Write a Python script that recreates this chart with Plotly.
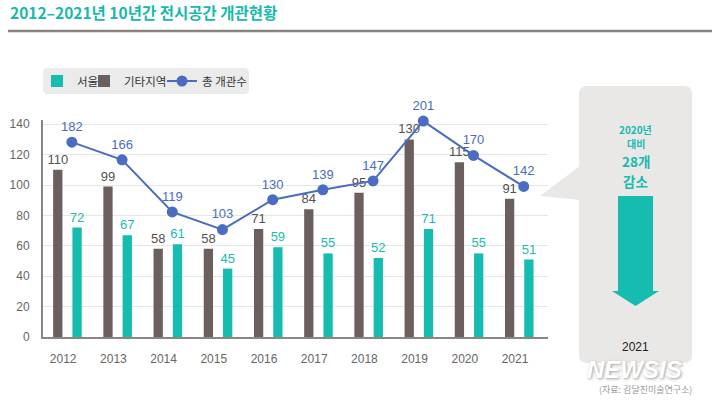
import plotly.graph_objects as go

# ---------------- data ----------------
years = [2012, 2013, 2014, 2015, 2016, 2017, 2018, 2019, 2020, 2021]
seoul = [72, 67, 61, 45, 59, 55, 52, 71, 55, 51]
others = [110, 99, 58, 58, 71, 84, 95, 130, 115, 91]
total = [182, 166, 119, 103, 130, 139, 147, 201, 170, 142]
y_ticks = [0, 20, 40, 60, 80, 100, 120, 140]

title_text = "2012–2021년 10년간 전시공간 개관현황"
panel_lines = ["2020년", "대비", "28개", "감소"]
panel_year = "2021"
source_text = "(자료: 김달진미술연구소)"

# ---------------- style ----------------
TEAL = "#15bcaf"
DARK = "#6b605d"
BLUE = "#4a6cc1"
GRID = "#e6e6e6"
AXIS = "#8c8682"
PANEL = "#e9e8e7"
FONT_NUM = "Liberation Sans, Noto Sans CJK KR, sans-serif"
FONT_KR = "Noto Sans CJK KR, sans-serif"

W, H = 720, 400
L, R, T, B = 43, 548, 120, 337  # plot area in pixels


def px(x):
    return (x - L) / (R - L)


def py(y):
    return (B - y) / (B - T)


fig = go.Figure()

fig.add_bar(
    x=years, y=seoul, name="서울", marker_color=TEAL, marker_line_width=0,
    width=0.185, offset=0.184, text=seoul, textposition="outside",
    constraintext="none", legend="legend",
    textfont=dict(color=TEAL, size=13, family=FONT_NUM), cliponaxis=False,
)
fig.add_bar(
    x=years, y=others, name="기타지역", marker_color=DARK, marker_line_width=0,
    width=0.185, offset=-0.2, text=others, textposition="outside",
    constraintext="none", legend="legend2",
    textfont=dict(color="#555050", size=13, family=FONT_NUM), cliponaxis=False,
)
fig.add_scatter(
    x=years, y=total, name="총 개관수", xaxis="x2", yaxis="y2", legend="legend3",
    mode="lines+markers+text", line=dict(color=BLUE, width=2),
    marker=dict(color=BLUE, size=11), text=total, textposition="top center",
    textfont=dict(color=BLUE, size=13, family=FONT_NUM), cliponaxis=False,
)

shapes = []
# title underline
shapes.append(dict(type="line", xref="paper", yref="paper",
                   x0=px(8), x1=px(712), y0=py(31), y1=py(31),
                   line=dict(color="#8a8480", width=2.5)))


def rounded_rect(x0, y0, x1, y1, r):
    return (f"M{px(x0 + r)},{py(y0)} L{px(x1 - r)},{py(y0)} "
            f"Q{px(x1)},{py(y0)} {px(x1)},{py(y0 + r)} "
            f"L{px(x1)},{py(y1 - r)} Q{px(x1)},{py(y1)} {px(x1 - r)},{py(y1)} "
            f"L{px(x0 + r)},{py(y1)} Q{px(x0)},{py(y1)} {px(x0)},{py(y1 - r)} "
            f"L{px(x0)},{py(y0 + r)} Q{px(x0)},{py(y0)} {px(x0 + r)},{py(y0)} Z")


# legend background
shapes.append(dict(type="path", xref="paper", yref="paper", layer="below",
                   path=rounded_rect(43, 68, 249, 94, 5),
                   fillcolor="#ebebeb", line=dict(width=0)))
# right panel
shapes.append(dict(type="path", xref="paper", yref="paper", layer="below",
                   path=rounded_rect(579, 86, 692, 363, 8),
                   fillcolor=PANEL, line=dict(width=0)))
# pointer
shapes.append(dict(type="path", xref="paper", yref="paper", layer="below",
                   path=f"M{px(580)},{py(166)} L{px(540)},{py(196)} L{px(580)},{py(200)} Z",
                   fillcolor=PANEL, line=dict(width=0)))
# arrow
shapes.append(dict(type="path", xref="paper", yref="paper",
                   path=(f"M{px(618)},{py(196)} L{px(653)},{py(196)} L{px(653)},{py(291)} "
                         f"L{px(659)},{py(291)} L{px(635.5)},{py(306)} L{px(612)},{py(291)} "
                         f"L{px(618)},{py(291)} Z"),
                   fillcolor=TEAL, line=dict(width=0)))

annotations = []
for txt, yy, sz in zip(panel_lines, [129, 143.5, 160.5, 180.5], [10, 10, 13.5, 13.5]):
    annotations.append(dict(xref="paper", yref="paper", x=px(635.5), y=py(yy),
                            text=txt, showarrow=False, xanchor="center", yanchor="middle",
                            borderpad=0,
                            font=dict(family=FONT_KR, size=sz, color=TEAL, weight=600)))
annotations.append(dict(xref="paper", yref="paper", x=px(635.5), y=py(347),
                        text=panel_year, showarrow=False, xanchor="center", yanchor="middle",
                        borderpad=0,
                        font=dict(family=FONT_NUM, size=12, color="#222222")))
annotations.append(dict(xref="paper", yref="paper", x=px(634), y=py(369),
                        text="NEWSIS", showarrow=False, xanchor="center", yanchor="middle",
                        borderpad=0,
                        font=dict(family="Liberation Sans, sans-serif", size=24, color="white",
                                  style="italic", weight=900, shadow="1px 1px 3px #9a9a9a")))
annotations.append(dict(xref="paper", yref="paper", x=px(645), y=py(389.5),
                        text=source_text, showarrow=False, xanchor="center", yanchor="middle",
                        borderpad=0,
                        font=dict(family=FONT_KR, size=9, color="#9a9a9a")))

shift = 0.173
xr = [2011.598, 2021.657]


def legend_at(x_pix):
    return dict(orientation="h", x=px(x_pix), y=py(81), xanchor="left", yanchor="middle",
                bgcolor="rgba(0,0,0,0)", font=dict(family=FONT_KR, size=11.5, color="#333333"),
                itemclick=False, itemdoubleclick=False)


fig.update_layout(
    width=W, height=H,
    margin=dict(l=L, r=W - R, t=T, b=H - B, autoexpand=False),
    paper_bgcolor="white", plot_bgcolor="white",
    barmode="overlay",
    title=dict(text=title_text, x=10 / W, xanchor="left", y=1 - 14 / H, yanchor="middle",
               xref="container", yref="container",
               font=dict(family=FONT_KR, size=15.5, color="#17b9ac", weight=700)),
    xaxis=dict(range=xr, tickvals=years, showgrid=False, zeroline=False,
               showline=True, linecolor=AXIS, linewidth=2, ticks="",
               tickfont=dict(family=FONT_NUM, size=12, color="#666666"),
               ticklabelstandoff=10, fixedrange=True),
    xaxis2=dict(range=[xr[0] - shift, xr[1] - shift], autorange=False,
                overlaying="x", visible=False),
    yaxis=dict(range=[0, 142.8], tickvals=y_ticks, showgrid=True, gridcolor=GRID,
               gridwidth=1, zeroline=False, showline=True, linecolor=AXIS, linewidth=2,
               ticks="", tickfont=dict(family=FONT_NUM, size=12, color="#666666"),
               ticklabelstandoff=9),
    yaxis2=dict(range=[6.0, 202.0], autorange=False, overlaying="y", visible=False),
    showlegend=True,
    legend=legend_at(37),
    legend2=legend_at(84),
    legend3=legend_at(162),
    shapes=shapes,
    annotations=annotations,
)

fig.write_html(
    "out.html",
    config={"displayModeBar": False},
    post_script="document.body.style.margin='0';document.body.style.padding='0';",
)
